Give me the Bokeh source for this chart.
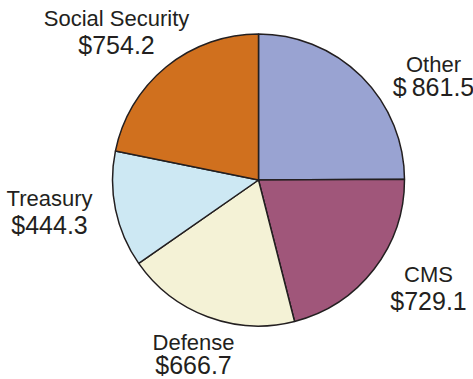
import numpy as np
from bokeh.plotting import figure
from bokeh.models import ColumnDataSource, Range1d
from bokeh.core.properties import value
from bokeh.embed import file_html
from bokeh.resources import INLINE

# ---- data ----
categories = ["Other", "CMS", "Defense", "Treasury", "Social Security"]
amounts = [861.5, 729.1, 666.7, 444.3, 754.2]
value_labels = ["$\u2009861.5", "$729.1", "$666.7", "$444.3", "$754.2"]

# ---- style / layout ----
colors = ["#99A3D2", "#A0567A", "#F4F2D6", "#CDE8F3", "#D0701E"]
W, H = 473, 379
cx, cy, R = 258, H - 179.5, 146
# label anchor positions (image px: x center, name baseline, value baseline)
label_pos = [(433, 73, 95), (428, 283, 309), (193, 351, 373), (49, 207, 233), (116, 27, 53)]
text_shift = 9  # renderer places alphabetic baseline lower; compensate

vals = np.array(amounts, dtype=float)
frac = vals / vals.sum()
cum = np.concatenate([[0.0], np.cumsum(frac)])
start = np.pi / 2 - 2 * np.pi * cum[:-1]
end = np.pi / 2 - 2 * np.pi * cum[1:]

src = ColumnDataSource(dict(cat=categories, start=start, end=end, color=colors))

p = figure(width=W, height=H, output_backend="svg", toolbar_location=None,
           x_range=Range1d(0, W), y_range=Range1d(0, H), min_border=0)
p.axis.visible = False
p.grid.visible = False
p.outline_line_color = None
p.background_fill_color = "white"
p.border_fill_color = "white"

p.wedge(x=cx, y=cy, radius=R, start_angle="start", end_angle="end", direction="clock",
        fill_color="color", line_color="#231f20", line_width=1.5, source=src)

tx, ty, tt, ts = [], [], [], []
for name, lab, (x, yb1, yb2) in zip(categories, value_labels, label_pos):
    tx += [x, x]
    ty += [H - yb1 + text_shift, H - yb2 + text_shift]
    tt += [name, lab]
    ts += ["22px", "25px"]
tsrc = ColumnDataSource(dict(x=tx, y=ty, t=tt, s=ts))
p.text(x="x", y="y", text="t", source=tsrc, text_font=value("Liberation Sans"),
       text_font_size="s", text_align="center", text_baseline="alphabetic",
       text_color="#231f20")

open("out.html", "w").write(file_html(p, INLINE))
